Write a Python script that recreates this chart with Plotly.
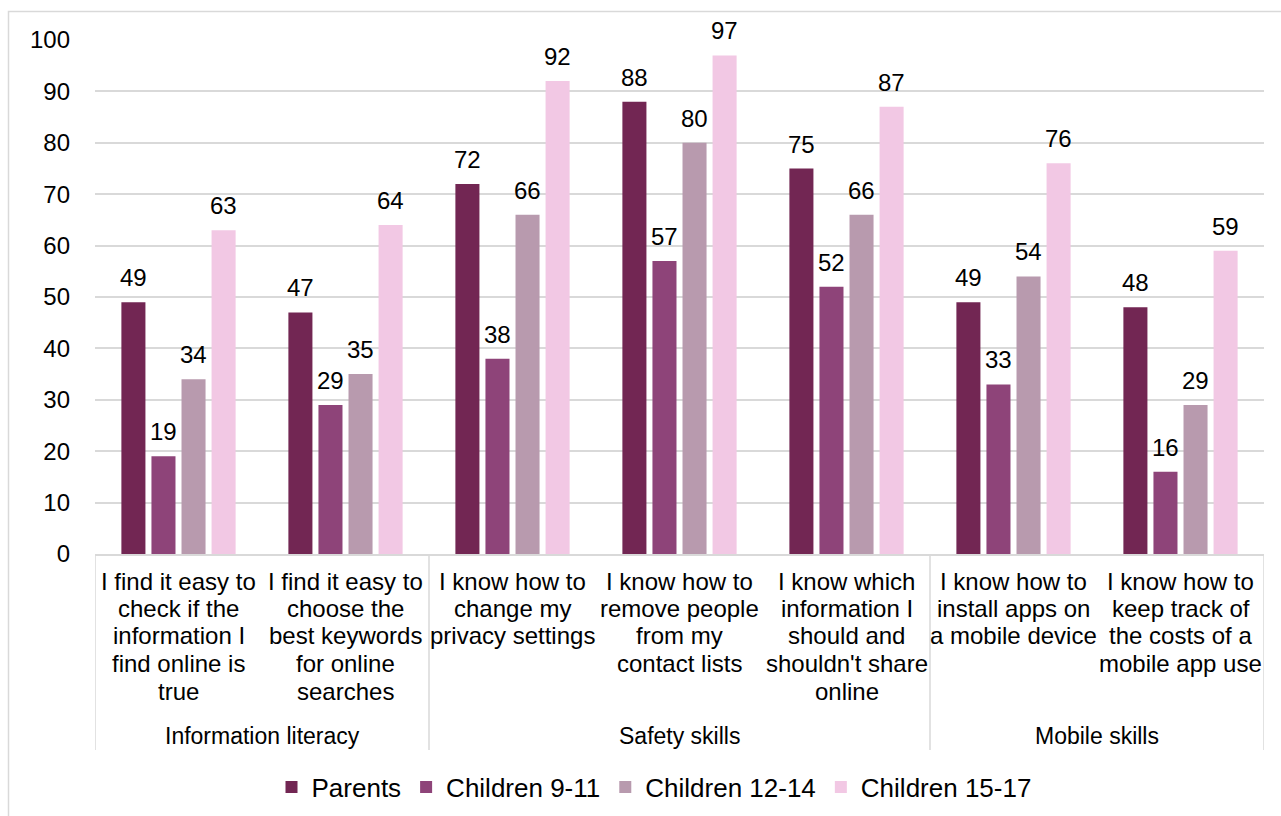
import plotly.graph_objects as go

category_lines = [
    ["I find it easy to", "check if the", "information I", "find online is", "true"],
    ["I find it easy to", "choose the", "best keywords", "for online", "searches"],
    ["I know how to", "change my", "privacy settings"],
    ["I know how to", "remove people", "from my", "contact lists"],
    ["I know which", "information I", "should and", "shouldn't share", "online"],
    ["I know how to", "install apps on", "a mobile device"],
    ["I know how to", "keep track of", "the costs of a", "mobile app use"],
]
groups = ["Information literacy", "Safety skills", "Mobile skills"]
group_sizes = [2, 3, 2]

series_names = ["Parents", "Children 9-11", "Children 12-14", "Children 15-17"]
parents = [49, 47, 72, 88, 75, 49, 48]
children_9_11 = [19, 29, 38, 57, 52, 33, 16]
children_12_14 = [34, 35, 66, 80, 66, 54, 29]
children_15_17 = [63, 64, 92, 97, 87, 76, 59]
series_values = [parents, children_9_11, children_12_14, children_15_17]
colors = ["#722653", "#8E4479", "#B89AAE", "#F2C8E4"]

y_ticks = list(range(0, 101, 10))

FONT = "Arial, Liberation Sans, sans-serif"
FS = 24
W, H = 1281, 816
ML, MR, MT, MB = 95, 17, 40, 262
PW, PH = W - ML - MR, H - MT - MB
BARGAP = 0.28
BARGROUPGAP = 0.2

x_idx = list(range(len(category_lines)))


def py(px_from_top):
    return (H - MB - px_from_top) / PH


def px(px_from_left):
    return (px_from_left - ML) / PW


fig = go.Figure()
for name, vals, col in zip(series_names, series_values, colors):
    fig.add_trace(go.Bar(
        x=x_idx, y=vals, name=name, marker=dict(color=col, line=dict(width=0)),
        hoverinfo="name+y",
    ))

annotations = []
# data labels, centred over each bar of the group
n = len(series_names)
slot = (1 - BARGAP) / n
for k, vals in enumerate(series_values):
    off = (k - (n - 1) / 2) * slot
    for i, v in enumerate(vals):
        annotations.append(dict(text=str(v), xref="x", yref="y", x=i + off, y=v,
                                xanchor="center", yanchor="bottom", yshift=9,
                                showarrow=False,
                                font=dict(family=FONT, size=FS, color="#000000")))

# category labels (one annotation per line to keep tight line spacing)
LINE_H = 27.5
for i, lines in enumerate(category_lines):
    for j, ln in enumerate(lines):
        annotations.append(dict(text=ln, xref="x", yref="paper", x=i, y=py(581 + j * LINE_H),
                                xanchor="center", yanchor="middle", showarrow=False,
                                font=dict(family=FONT, size=FS, color="#000000")))

shapes = []
bounds = [-0.5]
for s in group_sizes:
    bounds.append(bounds[-1] + s)
for b in bounds:
    shapes.append(dict(type="line", xref="x", yref="paper", x0=b, x1=b,
                       y0=0, y1=py(750), line=dict(color="#D9D9D9", width=1.5)))
shapes.append(dict(type="rect", xref="paper", yref="paper",
                   x0=px(8.5), x1=px(1300), y0=py(11.5), y1=py(840),
                   line=dict(color="#D9D9D9", width=1.5), fillcolor="rgba(0,0,0,0)"))

for g, b0, b1 in zip(groups, bounds[:-1], bounds[1:]):
    annotations.append(dict(text=g, xref="x", yref="paper", x=(b0 + b1) / 2, y=py(736),
                            showarrow=False, xanchor="center", yanchor="middle",
                            font=dict(family=FONT, size=23, color="#000000")))

fig.update_layout(
    width=W, height=H,
    margin=dict(l=ML, r=MR, t=MT, b=MB, pad=0, autoexpand=False),
    paper_bgcolor="#FFFFFF", plot_bgcolor="#FFFFFF",
    barmode="group", bargap=BARGAP, bargroupgap=BARGROUPGAP,
    font=dict(family=FONT, size=FS, color="#000000"),
    showlegend=True,
    legend=dict(orientation="h", x=px(654), y=py(787), xanchor="center", yanchor="middle",
                font=dict(family=FONT, size=26, color="#000000"),
                itemwidth=30, traceorder="normal"),
    shapes=shapes, annotations=annotations,
    xaxis=dict(range=[-0.5, len(category_lines) - 0.5], tickmode="array", tickvals=x_idx,
               ticktext=["" for _ in x_idx],
               showgrid=False, zeroline=False, showline=True, linecolor="#D9D9D9",
               linewidth=1.5, ticks="", fixedrange=True),
    yaxis=dict(range=[0, 100], tickmode="array", tickvals=y_ticks,
               tickfont=dict(family=FONT, size=FS, color="#000000"),
               showgrid=True, gridcolor="#D9D9D9", gridwidth=1.5, zeroline=False,
               showline=False, ticks="", ticklabelstandoff=24, fixedrange=True),
)

fig.write_html("out.html")
